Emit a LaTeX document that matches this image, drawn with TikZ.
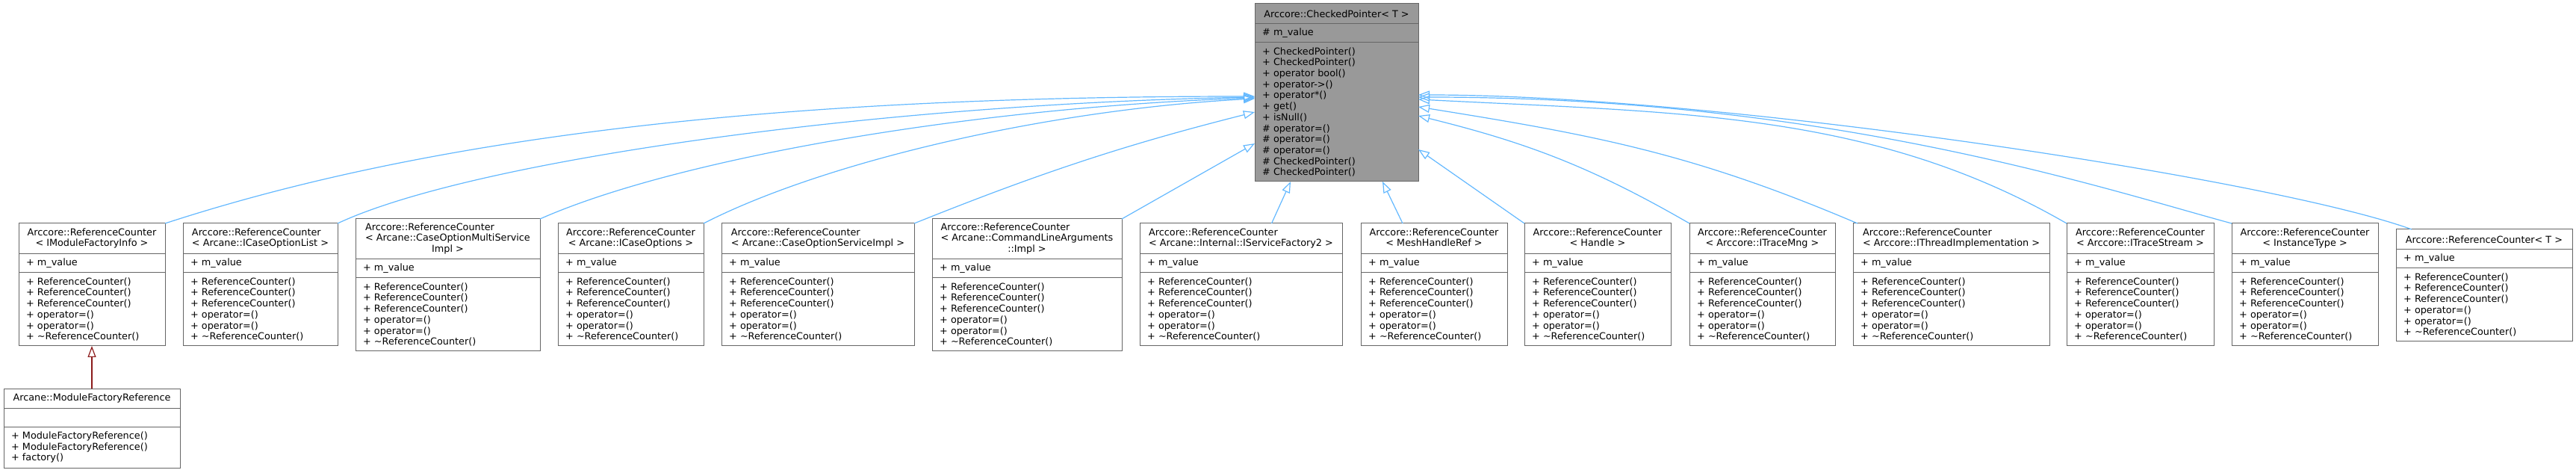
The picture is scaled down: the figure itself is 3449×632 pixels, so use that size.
\documentclass[tikz,border=0pt]{standalone}
\usepackage{fontspec}
\setmainfont{DejaVu Sans}
\usetikzlibrary{positioning, arrows.meta}

\definecolor{edgeblue}{HTML}{63B8FF}
\definecolor{edgered}{HTML}{8B1A1A}
\definecolor{boxline}{HTML}{666666}
\definecolor{boxgray}{HTML}{999999}

% class titles: first lines flush left, last line centred
\newcommand{\tpltwo}[2]{\begin{tabular}{@{}l@{}}#1\\\multicolumn{1}{@{}c@{}}{#2}\end{tabular}}
\newcommand{\tplthree}[3]{\begin{tabular}{@{}l@{}}#1\\#2\\\multicolumn{1}{@{}c@{}}{#3}\end{tabular}}
\newcommand{\rcmembers}{+ ReferenceCounter()\\+ ReferenceCounter()\\+ ReferenceCounter()\\+ operator=()\\+ operator=()\\+ \textasciitilde ReferenceCounter()}

\tikzset{
  clsname/.style={draw=boxline, line width=1pt, fill=white, align=center, inner sep=0pt, outer sep=0pt, anchor=north west},
  clspart/.style={draw=boxline, line width=1pt, fill=white, align=left, inner xsep=10pt, inner ysep=0pt, outer sep=0pt},
  inh/.style={edgeblue, line width=1.2pt, -{Triangle[open, length=15pt, width=11pt]}},
  inhred/.style={edgered, line width=1.2pt, -{Triangle[open, length=15pt, width=11pt]}}
}

\begin{document}
\begin{tikzpicture}[x=1pt, y=1pt, font=\fontsize{12.8}{14.7}\selectfont]
    \useasboundingbox (0,0) rectangle (3449,632);

    % base class
    \node[clsname, fill=boxgray, minimum width=219pt, minimum height=27pt] (cpt) at (1680,627) {Arccore::CheckedPointer< T >};
    \node[clspart, fill=boxgray, text width=199pt, minimum height=25pt, below=0pt of cpt] (cpa) {\# m\_value};
    \node[clspart, fill=boxgray, text width=199pt, minimum height=186pt, below=0pt of cpa] (cpm) {+ CheckedPointer()\\+ CheckedPointer()\\+ operator bool()\\+ operator->()\\+ operator*()\\+ get()\\+ isNull()\\\# operator=()\\\# operator=()\\\# operator=()\\\# CheckedPointer()\\\# CheckedPointer()};

    % derived classes
    \node[clsname, minimum width=196pt, minimum height=41pt] (rc1t) at (25,333) {\tpltwo{Arccore::ReferenceCounter}{< IModuleFactoryInfo >}};
    \node[clspart, text width=176pt, minimum height=25pt, below=0pt of rc1t] (rc1a) {+ m\_value};
    \node[clspart, text width=176pt, minimum height=98pt, below=0pt of rc1a] (rc1m) {\rcmembers};

    \node[clsname, minimum width=207pt, minimum height=41pt] (rc2t) at (245,333) {\tpltwo{Arccore::ReferenceCounter}{< Arcane::ICaseOptionList >}};
    \node[clspart, text width=187pt, minimum height=25pt, below=0pt of rc2t] (rc2a) {+ m\_value};
    \node[clspart, text width=187pt, minimum height=98pt, below=0pt of rc2a] (rc2m) {\rcmembers};

    \node[clsname, minimum width=247pt, minimum height=54pt] (rc3t) at (476,339) {\tplthree{Arccore::ReferenceCounter}{< Arcane::CaseOptionMultiService}{Impl >}};
    \node[clspart, text width=227pt, minimum height=25pt, below=0pt of rc3t] (rc3a) {+ m\_value};
    \node[clspart, text width=227pt, minimum height=98pt, below=0pt of rc3a] (rc3m) {\rcmembers};

    \node[clsname, minimum width=195pt, minimum height=41pt] (rc4t) at (747,333) {\tpltwo{Arccore::ReferenceCounter}{< Arcane::ICaseOptions >}};
    \node[clspart, text width=175pt, minimum height=25pt, below=0pt of rc4t] (rc4a) {+ m\_value};
    \node[clspart, text width=175pt, minimum height=98pt, below=0pt of rc4a] (rc4m) {\rcmembers};

    \node[clsname, minimum width=258pt, minimum height=41pt] (rc5t) at (966,333) {\tpltwo{Arccore::ReferenceCounter}{< Arcane::CaseOptionServiceImpl >}};
    \node[clspart, text width=238pt, minimum height=25pt, below=0pt of rc5t] (rc5a) {+ m\_value};
    \node[clspart, text width=238pt, minimum height=98pt, below=0pt of rc5a] (rc5m) {\rcmembers};

    \node[clsname, minimum width=254pt, minimum height=54pt] (rc6t) at (1248,339) {\tplthree{Arccore::ReferenceCounter}{< Arcane::CommandLineArguments}{::Impl >}};
    \node[clspart, text width=234pt, minimum height=25pt, below=0pt of rc6t] (rc6a) {+ m\_value};
    \node[clspart, text width=234pt, minimum height=98pt, below=0pt of rc6a] (rc6m) {\rcmembers};

    \node[clsname, minimum width=271pt, minimum height=41pt] (rc7t) at (1526,333) {\tpltwo{Arccore::ReferenceCounter}{< Arcane::Internal::IServiceFactory2 >}};
    \node[clspart, text width=251pt, minimum height=25pt, below=0pt of rc7t] (rc7a) {+ m\_value};
    \node[clspart, text width=251pt, minimum height=98pt, below=0pt of rc7a] (rc7m) {\rcmembers};

    \node[clsname, minimum width=196pt, minimum height=41pt] (rc8t) at (1822,333) {\tpltwo{Arccore::ReferenceCounter}{< MeshHandleRef >}};
    \node[clspart, text width=176pt, minimum height=25pt, below=0pt of rc8t] (rc8a) {+ m\_value};
    \node[clspart, text width=176pt, minimum height=98pt, below=0pt of rc8a] (rc8m) {\rcmembers};

    \node[clsname, minimum width=196pt, minimum height=41pt] (rc9t) at (2041,333) {\tpltwo{Arccore::ReferenceCounter}{< Handle >}};
    \node[clspart, text width=176pt, minimum height=25pt, below=0pt of rc9t] (rc9a) {+ m\_value};
    \node[clspart, text width=176pt, minimum height=98pt, below=0pt of rc9a] (rc9m) {\rcmembers};

    \node[clsname, minimum width=195pt, minimum height=41pt] (rc10t) at (2262,333) {\tpltwo{Arccore::ReferenceCounter}{< Arccore::ITraceMng >}};
    \node[clspart, text width=175pt, minimum height=25pt, below=0pt of rc10t] (rc10a) {+ m\_value};
    \node[clspart, text width=175pt, minimum height=98pt, below=0pt of rc10a] (rc10m) {\rcmembers};

    \node[clsname, minimum width=263pt, minimum height=41pt] (rc11t) at (2481,333) {\tpltwo{Arccore::ReferenceCounter}{< Arccore::IThreadImplementation >}};
    \node[clspart, text width=243pt, minimum height=25pt, below=0pt of rc11t] (rc11a) {+ m\_value};
    \node[clspart, text width=243pt, minimum height=98pt, below=0pt of rc11a] (rc11m) {\rcmembers};

    \node[clsname, minimum width=197pt, minimum height=41pt] (rc12t) at (2767,333) {\tpltwo{Arccore::ReferenceCounter}{< Arccore::ITraceStream >}};
    \node[clspart, text width=177pt, minimum height=25pt, below=0pt of rc12t] (rc12a) {+ m\_value};
    \node[clspart, text width=177pt, minimum height=98pt, below=0pt of rc12a] (rc12m) {\rcmembers};

    \node[clsname, minimum width=196pt, minimum height=41pt] (rc13t) at (2988,333) {\tpltwo{Arccore::ReferenceCounter}{< InstanceType >}};
    \node[clspart, text width=176pt, minimum height=25pt, below=0pt of rc13t] (rc13a) {+ m\_value};
    \node[clspart, text width=176pt, minimum height=98pt, below=0pt of rc13a] (rc13m) {\rcmembers};

    \node[clsname, minimum width=236pt, minimum height=27pt] (rc14t) at (3208,325) {Arccore::ReferenceCounter< T >};
    \node[clspart, text width=216pt, minimum height=25pt, below=0pt of rc14t] (rc14a) {+ m\_value};
    \node[clspart, text width=216pt, minimum height=98pt, below=0pt of rc14a] (rc14m) {\rcmembers};

    % second level
    \node[clsname, minimum width=236pt, minimum height=26pt] (mfrt) at (5,112) {Arcane::ModuleFactoryReference};
    \node[clspart, text width=216pt, minimum height=25pt, below=0pt of mfrt] (mfra) {};
    \node[clspart, text width=216pt, minimum height=55pt, below=0pt of mfra] (mfrm) {+ ModuleFactoryReference()\\+ ModuleFactoryReference()\\+ factory()};

    % inheritance
    \draw[inh] (rc1t.north east) .. controls +(380,124) and +(-600,0) .. ([yshift=-72pt]cpm.north west);
    \draw[inh] (rc2t.north east) .. controls +(181,85) and +(-500,-9) .. ([yshift=-73pt]cpm.north west);
    \draw[inh] (rc3t.north east) .. controls +(183,81) and +(-380,-13) .. ([yshift=-74pt]cpm.north west);
    \draw[inh] (rc4t.north east) .. controls +(160,82) and +(-280,-15) .. ([yshift=-75pt]cpm.north west);
    \draw[inh] (rc5t.north east) .. controls +(167,67) and +(-175,-44) .. ([yshift=-93pt]cpm.north west);
    \draw[inh] (rc6t.north east) -- ([yshift=-135pt]cpm.north west);
    \draw[inh] ([xshift=41pt]rc7t.north) -- ([xshift=48pt]cpm.south west);
    \draw[inh] ([xshift=-42pt]rc8t.north) -- ([xshift=171pt]cpm.south west);
    \draw[inh] (rc9t.north west) -- ([yshift=-143pt]cpm.north east);
    \draw[inh] (rc10t.north west) .. controls +(-130,75) and +(146,-36) .. ([yshift=-98pt]cpm.north east);
    \draw[inh] ([xshift=6pt]rc11t.north west) .. controls +(-221,94) and +(237,-38) .. ([yshift=-86pt]cpm.north east);
    \draw[inh] (rc12t.north west) .. controls +(-260,150) and +(350,-18) .. ([yshift=-76pt]cpm.north east);
    \draw[inh] (rc13t.north west) .. controls +(-174,47) and +(550,0) .. ([yshift=-73pt]cpm.north east);
    \draw[inh] ([xshift=21pt]rc14t.north west) .. controls +(-188,68) and +(400,0) .. ([yshift=-70pt]cpm.north east);
    \draw[inhred] (mfrt.north) -- (rc1m.south);
\end{tikzpicture}
\end{document}
